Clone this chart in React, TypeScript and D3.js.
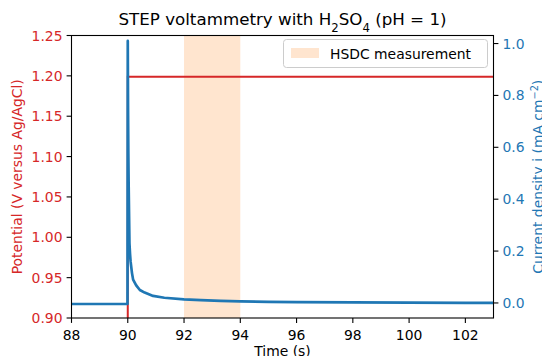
import React from "react";
import * as d3 from "d3";

const xTicks = [88, 90, 92, 94, 96, 98, 100, 102];
const leftTicks = [0.9, 0.95, 1.0, 1.05, 1.1, 1.15, 1.2, 1.25];
const rightTicks = [0.0, 0.2, 0.4, 0.6, 0.8, 1.0];

const potentialTime = [87, 90, 90, 104];
const potentialValue = [0.85, 0.85, 1.199, 1.199];

const currentTime = [87, 88, 89, 89.99, 90.0, 90.01, 90.02, 90.03, 90.04, 90.06, 90.08, 90.1, 90.15, 90.19, 90.3, 90.43, 90.6, 90.9, 91.3, 92.0, 92.6, 93.3, 94, 95, 96, 98, 100, 102, 104];
const currentValue = [-0.004, -0.004, -0.004, -0.004, 1.01, 0.75, 0.58, 0.47, 0.39, 0.23, 0.19, 0.16, 0.115, 0.09, 0.068, 0.05, 0.04, 0.027, 0.02, 0.014, 0.011, 0.008, 0.006, 0.004, 0.003, 0.002, 0.001, 0.0, 0.0];

const bandStart = 92;
const bandEnd = 94;

const RED = "#d62728";
const BLUE = "#1f77b4";
const FONT = "DejaVu Sans";

export default function App() {
  const L = 71.5, R = 493.5, T = 35.5, B = 318;
  const x = d3.scaleLinear().domain([88, 103]).range([L, R]);
  const yL = d3.scaleLinear().domain([0.9, 1.25]).range([B, T]);
  const yR = d3.scaleLinear().domain([-0.058, 1.031]).range([B, T]);

  const redLine = d3.line<number>().x((_, i) => x(potentialTime[i])).y((d) => yL(d))(potentialValue) || "";
  const blueLine = d3.line<number>().x((_, i) => x(currentTime[i])).y((d) => yR(d))(currentValue) || "";

  const fs = 13.9;
  return (
    <svg width={542} height={356} style={{ position: "absolute", left: 0, top: 0 }} fontFamily={FONT}>
      <rect width={542} height={356} fill="white" />
      <defs>
        <clipPath id="plot">
          <rect x={L} y={T} width={R - L} height={B - T} />
        </clipPath>
      </defs>
      <rect x={x(bandStart)} y={T} width={x(bandEnd) - x(bandStart)} height={B - T} fill="#ffe5cf" />
      <g clipPath="url(#plot)">
        <path d={redLine} fill="none" stroke={RED} strokeWidth={2} />
        <path d={blueLine} fill="none" stroke={BLUE} strokeWidth={2.7} strokeLinejoin="round" />
      </g>
      <rect x={L} y={T} width={R - L} height={B - T} fill="none" stroke="black" strokeWidth={1.1} />
      {xTicks.map((t) => (
        <g key={"x" + t}>
          <line x1={x(t)} x2={x(t)} y1={B} y2={B + 4.9} stroke="black" strokeWidth={1.1} />
          <text x={x(t)} y={B + 21.5} fontSize={fs} textAnchor="middle" fill="black">{t}</text>
        </g>
      ))}
      {leftTicks.map((t) => (
        <g key={"l" + t}>
          <line x1={L - 4.9} x2={L} y1={yL(t)} y2={yL(t)} stroke="black" strokeWidth={1.1} />
          <text x={L - 9} y={yL(t) + 5} fontSize={fs} textAnchor="end" fill={RED}>{t.toFixed(2)}</text>
        </g>
      ))}
      {rightTicks.map((t) => (
        <g key={"r" + t}>
          <line x1={R} x2={R + 4.9} y1={yR(t)} y2={yR(t)} stroke="black" strokeWidth={1.1} />
          <text x={R + 9} y={yR(t) + 5} fontSize={fs} textAnchor="start" fill={BLUE}>{t.toFixed(1)}</text>
        </g>
      ))}
      <text x={(L + R) / 2} y={356} fontSize={fs} textAnchor="middle" fill="black">Time (s)</text>
      <text transform={`translate(22, ${(T + B) / 2}) rotate(-90)`} fontSize={fs} textAnchor="middle" fill={RED}>Potential (V versus Ag/AgCl)</text>
      <text transform={`translate(543, ${(T + B) / 2}) rotate(-90)`} fontSize={fs} textAnchor="middle" fill={BLUE}>
        Current density i (mA cm<tspan baseline-shift="super" fontSize={fs * 0.7}>−2</tspan>)
      </text>
      <text x={(L + R) / 2} y={25} fontSize={16.7} textAnchor="middle" fill="black">
        STEP voltammetry with H<tspan baseline-shift="sub" fontSize={16.7 * 0.7}>2</tspan>SO<tspan baseline-shift="sub" fontSize={16.7 * 0.7}>4</tspan> (pH = 1)
      </text>
      <rect x={283.5} y={39.5} width={204} height={28} rx={3} fill="white" fillOpacity={0.8} stroke="#cccccc" strokeWidth={1} />
      <rect x={291} y={48} width={28} height={10} fill="#ffe5cf" />
      <text x={330} y={58.5} fontSize={fs} fill="black">HSDC measurement</text>
    </svg>
  );
}
